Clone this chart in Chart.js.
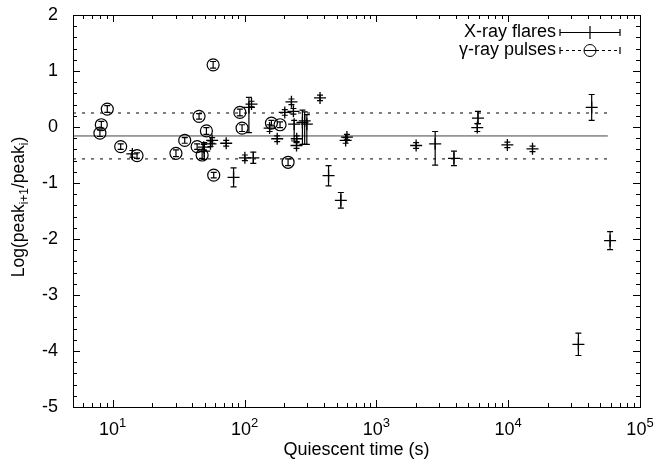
<!DOCTYPE html>
<html>
<head>
<meta charset="utf-8">
<script src="https://cdn.jsdelivr.net/npm/chart.js@4"></script>
<style>
  html, body { margin: 0; padding: 0; background: #fff; }
  canvas { display: block; }
</style>
</head>
<body>
<canvas id="chart" width="657" height="465"></canvas>
<script>
// X-ray flares: quiescent time (s), log ratio, lower / upper error
const xrayTime = [14.1, 56.8, 55.2, 49.1, 49.5, 72.6, 82.6, 100.6, 116.6, 113, 108, 155, 177, 202, 227, 235, 238, 249, 248, 275, 286, 297, 374, 434, 538, 598, 585, 2004, 2794, 3880, 5900, 5830, 9860, 15300, 43000, 59300, 34100];
const xrayRatio = [-0.48, -0.24, -0.30, -0.36, -0.43, -0.29, -0.90, -0.55, -0.55, 0.41, 0.35, -0.02, -0.21, 0.26, 0.45, 0.28, 0.05, -0.21, -0.33, 0.08, 0.11, 0.05, 0.52, -0.87, -1.31, -0.18, -0.24, -0.33, -0.30, -0.56, 0.16, -0.01, -0.32, -0.39, 0.35, -2.03, -3.88];
const xrayErrLo = [0.06, 0.05, 0.05, 0.05, 0.15, 0.05, 0.17, 0.05, 0.10, 0.05, 0.45, 0.06, 0.05, 0.05, 0.05, 0.05, 0.30, 0.05, 0.05, 0.39, 0.42, 0.36, 0.05, 0.18, 0.14, 0.05, 0.05, 0.05, 0.38, 0.13, 0.10, 0.07, 0.05, 0.05, 0.23, 0.16, 0.20];
const xrayErrHi = [0.06, 0.05, 0.05, 0.05, 0.15, 0.05, 0.17, 0.05, 0.10, 0.05, 0.18, 0.06, 0.05, 0.05, 0.05, 0.05, 0.07, 0.05, 0.05, 0.22, 0.16, 0.17, 0.05, 0.18, 0.14, 0.05, 0.05, 0.05, 0.22, 0.13, 0.12, 0.07, 0.05, 0.05, 0.23, 0.16, 0.20];

// gamma-ray pulses
const gammaTime = [9.1, 8.2, 8.0, 11.5, 15.3, 30.2, 35.2, 45.2, 43.7, 51.4, 47.7, 57.8, 58.4, 92.2, 95.8, 160, 186, 214];
const gammaRatio = [0.32, 0.04, -0.11, -0.35, -0.51, -0.47, -0.24, 0.19, -0.35, -0.07, -0.50, 1.11, -0.86, 0.26, -0.02, 0.07, 0.04, -0.63];
const gammaErr = [0.06, 0.06, 0.06, 0.05, 0.05, 0.06, 0.05, 0.05, 0.05, 0.06, 0.06, 0.06, 0.05, 0.06, 0.06, 0.05, 0.05, 0.06];

// mean and spread lines
const meanRatio = -0.16;
const upperRatio = 0.25;
const lowerRatio = -0.57;
const lineSpan = [5, 57000];

const yTicks = [2, 1, 0, -1, -2, -3, -4, -5];
const xDecades = [1, 2, 3, 4, 5];

const FONT = '"Liberation Sans", Arial, Helvetica, sans-serif';

function toPoints(times, values, lo, hi) {
  return times.map((t, i) => ({
    x: t,
    y: values[i],
    yMin: values[i] - lo[i],
    yMax: values[i] + hi[i],
  }));
}

function flatLine(value) {
  return lineSpan.map(t => ({ x: t, y: value }));
}

function noEdgePadding(scale) {
  scale.paddingTop = 0;
  scale.paddingBottom = 0;
  scale.paddingLeft = 0;
  scale.paddingRight = 0;
}

const errorBars = {
  id: 'errorBars',
  afterDatasetsDraw(chart) {
    const { ctx, scales: { x, y } } = chart;
    ctx.save();
    ctx.strokeStyle = '#000';
    ctx.lineWidth = 1.2;
    chart.data.datasets.forEach(ds => {
      if (!ds.errorBars) return;
      ds.data.forEach(p => {
        const px = x.getPixelForValue(p.x);
        const top = y.getPixelForValue(p.yMax);
        const bottom = y.getPixelForValue(p.yMin);
        ctx.beginPath();
        ctx.moveTo(px, top);
        ctx.lineTo(px, bottom);
        ctx.moveTo(px - 3, top);
        ctx.lineTo(px + 3, top);
        ctx.moveTo(px - 3, bottom);
        ctx.lineTo(px + 3, bottom);
        ctx.stroke();
      });
    });
    ctx.restore();
  },
};

const frame = {
  id: 'frame',
  afterDraw(chart) {
    const { ctx, chartArea: a, scales: { x, y } } = chart;
    ctx.save();
    ctx.strokeStyle = '#000';
    ctx.lineWidth = 1;
    ctx.beginPath();
    for (let d = 0; d <= 5; d++) {
      for (let m = 1; m <= 9; m++) {
        const v = m * Math.pow(10, d);
        if (v < 5 || v > 1e5) continue;
        const px = Math.round(x.getPixelForValue(v)) + 0.5;
        const len = m === 1 ? 7 : 4;
        ctx.moveTo(px, a.bottom);
        ctx.lineTo(px, a.bottom - len);
        ctx.moveTo(px, a.top);
        ctx.lineTo(px, a.top + len);
      }
    }
    for (let i = 0; i <= 35; i++) {
      const py = Math.round(y.getPixelForValue(-5 + i * 0.2)) + 0.5;
      const len = i % 5 === 0 ? 7 : 4;
      ctx.moveTo(a.left, py);
      ctx.lineTo(a.left + len, py);
      ctx.moveTo(a.right, py);
      ctx.lineTo(a.right - len, py);
    }
    ctx.stroke();
    ctx.strokeRect(Math.round(a.left) + 0.5, Math.round(a.top) + 0.5,
      Math.round(a.right - a.left), Math.round(a.bottom - a.top));

    // x tick labels with exponents
    ctx.fillStyle = '#000';
    ctx.textBaseline = 'alphabetic';
    xDecades.forEach(d => {
      ctx.font = `18px ${FONT}`;
      const wBase = ctx.measureText('10').width;
      ctx.font = `13px ${FONT}`;
      const wExp = ctx.measureText(String(d)).width;
      const cx = x.getPixelForValue(Math.pow(10, d));
      const left = cx - (wBase + wExp) / 2;
      ctx.font = `18px ${FONT}`;
      ctx.textAlign = 'left';
      ctx.fillText('10', left, a.bottom + 28);
      ctx.font = `13px ${FONT}`;
      ctx.fillText(String(d), left + wBase, a.bottom + 20);
    });

    // y axis title with subscripts
    const parts = [
      ['Log(peak', 17.5, 0],
      ['i+1', 12, 4],
      ['/peak', 17.5, 0],
      ['i', 12, 4],
      [')', 17.5, 0],
    ];
    let total = 0;
    parts.forEach(p => {
      ctx.font = `${p[1]}px ${FONT}`;
      p.push(ctx.measureText(p[0]).width);
      total += p[3];
    });
    ctx.translate(24, 207);
    ctx.rotate(-Math.PI / 2);
    let cursor = -total / 2;
    parts.forEach(p => {
      ctx.font = `${p[1]}px ${FONT}`;
      ctx.fillText(p[0], cursor, p[2]);
      cursor += p[3];
    });
    ctx.restore();

    // legend
    ctx.save();
    ctx.fillStyle = '#000';
    ctx.strokeStyle = '#000';
    ctx.font = `18px ${FONT}`;
    ctx.textAlign = 'right';
    ctx.textBaseline = 'middle';
    ctx.fillText('X-ray flares', 556, 32);
    ctx.fillText('\u03b3-ray pulses', 556, 50);
    const x0 = 560, x1 = 620, xm = 590;
    ctx.lineWidth = 1.2;
    ctx.beginPath();
    ctx.moveTo(x0, 32.5); ctx.lineTo(x1, 32.5);
    ctx.moveTo(x0, 29); ctx.lineTo(x0, 36);
    ctx.moveTo(x1, 29); ctx.lineTo(x1, 36);
    ctx.moveTo(xm, 26); ctx.lineTo(xm, 39);
    ctx.moveTo(x0, 47); ctx.lineTo(x0, 54);
    ctx.moveTo(x1, 47); ctx.lineTo(x1, 54);
    ctx.stroke();
    ctx.lineWidth = 1;
    ctx.setLineDash([3, 3]);
    ctx.beginPath();
    ctx.moveTo(x0, 50.5); ctx.lineTo(xm - 6, 50.5);
    ctx.moveTo(xm + 6, 50.5); ctx.lineTo(x1, 50.5);
    ctx.stroke();
    ctx.setLineDash([]);
    ctx.beginPath();
    ctx.arc(xm, 50.5, 6, 0, Math.PI * 2);
    ctx.moveTo(xm - 6, 50.5); ctx.lineTo(xm + 6, 50.5);
    ctx.stroke();
    ctx.restore();
  },
};

new Chart(document.getElementById('chart').getContext('2d'), {
  type: 'scatter',
  data: {
    datasets: [
      {
        label: 'X-ray flares',
        data: toPoints(xrayTime, xrayRatio, xrayErrLo, xrayErrHi),
        errorBars: true,
        pointStyle: 'cross',
        pointRadius: 6,
        borderColor: '#000',
        borderWidth: 1.3,
      },
      {
        label: '\u03b3-ray pulses',
        data: toPoints(gammaTime, gammaRatio, gammaErr, gammaErr),
        errorBars: true,
        pointStyle: 'circle',
        pointRadius: 6,
        borderColor: '#000',
        backgroundColor: 'rgba(0,0,0,0)',
        borderWidth: 1.2,
      },
      {
        type: 'line',
        data: flatLine(meanRatio),
        borderColor: '#444',
        borderWidth: 1,
        pointRadius: 0,
      },
      {
        type: 'line',
        data: flatLine(upperRatio),
        borderColor: '#000',
        borderWidth: 1,
        borderDash: [3, 6],
        pointRadius: 0,
      },
      {
        type: 'line',
        data: flatLine(lowerRatio),
        borderColor: '#000',
        borderWidth: 1,
        borderDash: [3, 6],
        pointRadius: 0,
      },
    ],
  },
  options: {
    responsive: false,
    animation: false,
    devicePixelRatio: 1,
    layout: { autoPadding: false, padding: { top: 15, right: 17, left: 0, bottom: 0 } },
    plugins: {
      legend: { display: false },
      tooltip: { enabled: false },
    },
    scales: {
      x: {
        type: 'logarithmic',
        min: 5,
        max: 100000,
        grid: { display: false, drawTicks: false },
        border: { display: false },
        ticks: { display: false },
        title: {
          display: true,
          text: 'Quiescent time (s)',
          color: '#000',
          font: { family: FONT, size: 18 },
          padding: { top: 0, bottom: 4 },
        },
        afterFit(scale) {
          scale.height = 58;
          noEdgePadding(scale);
        },
      },
      y: {
        min: -5,
        max: 2,
        grid: { display: false, drawTicks: false },
        border: { display: false },
        afterBuildTicks(scale) { scale.ticks = yTicks.map(v => ({ value: v })); },
        ticks: {
          color: '#000',
          padding: 15,
          font: { family: FONT, size: 18 },
        },
        afterFit(scale) {
          scale.width = 73;
          noEdgePadding(scale);
        },
      },
    },
  },
  plugins: [errorBars, frame],
});
</script>
</body>
</html>
